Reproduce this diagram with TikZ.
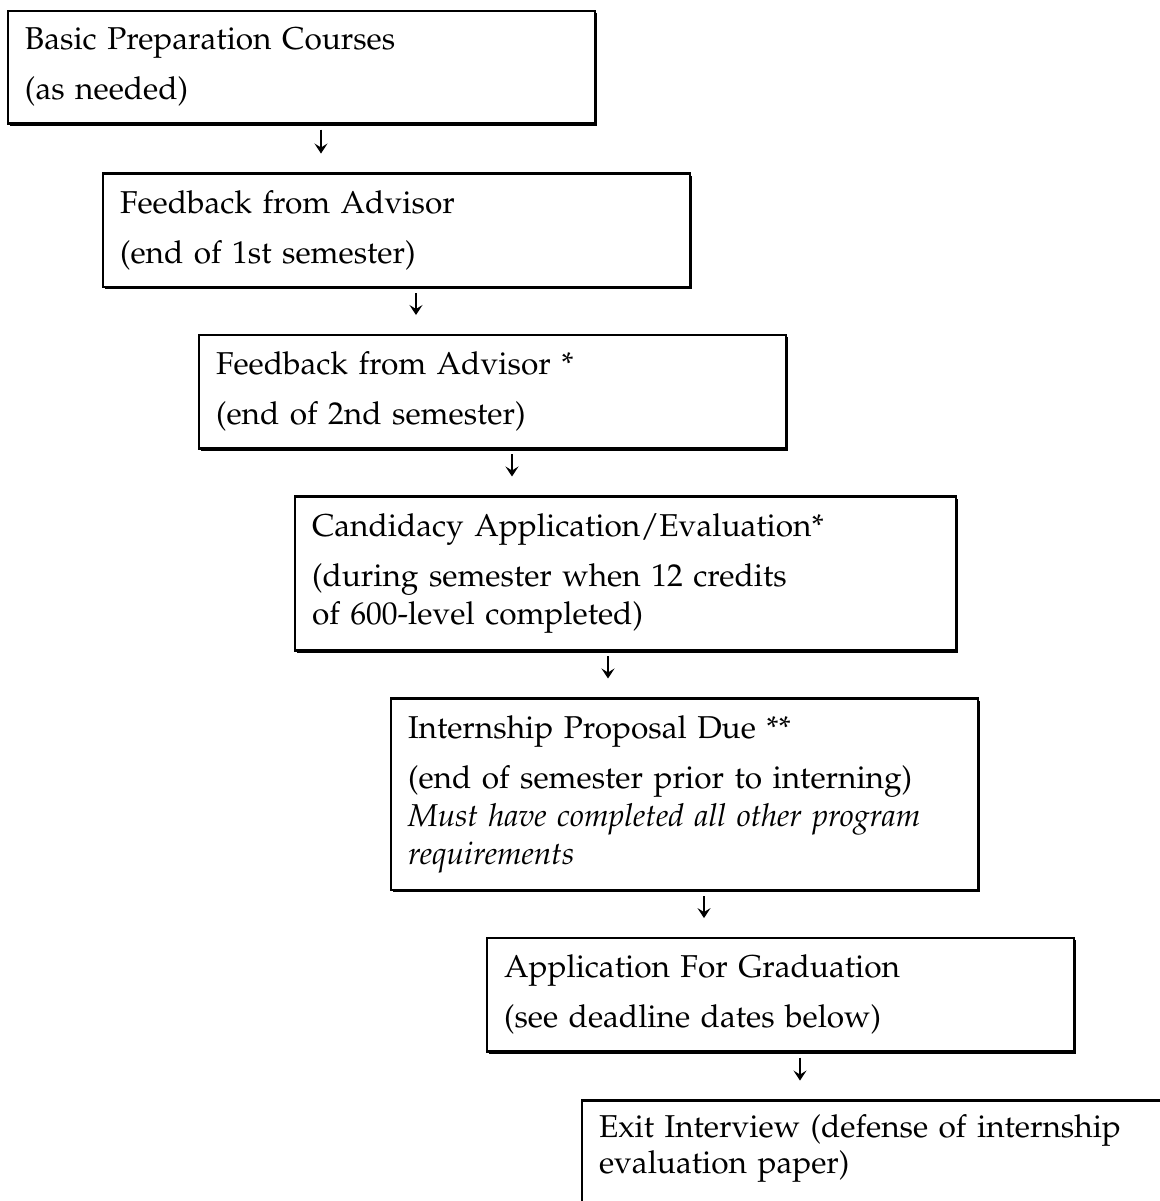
\documentclass[tikz,border=0pt]{standalone}
\usepackage[T1]{fontenc}
\usepackage{mathpazo}
\usepackage{tikz}
\usetikzlibrary{positioning, arrows.meta, shadows}

\tikzset{
    stage/.style={draw, line width=1.1pt, fill=white, anchor=north west, align=left, outer sep=0pt,
        text width=276.5pt, inner xsep=8.5pt, inner ysep=8.5pt, minimum height=56.5pt,
        font=\fontsize{15.8pt}{19pt}\selectfont,
        drop shadow={shadow xshift=1.2pt, shadow yshift=-1.2pt, fill=black, opacity=1}},
    flow/.style={-{Stealth[length=5pt, width=6.5pt, inset=2pt]}, line width=0.6pt, shorten <=3pt, shorten >=10pt}
}

\begin{document}
\begin{tikzpicture}
    \useasboundingbox (0,0) rectangle (580pt,-600.5pt);
    \clip (0,0) rectangle (580pt,-600.5pt);
    \node (Prep) [stage, minimum height=56pt] at (4pt,-5.5pt) {Basic Preparation Courses\\[6pt](as needed)};
    \node (Adv1) [stage, below right=25pt and 47.5pt of Prep.south west] {Feedback from Advisor\\[6pt](end of 1st semester)};
    \node (Adv2) [stage, below right=24pt and 48pt of Adv1.south west] {Feedback from Advisor *\\[6pt](end of 2nd semester)};
    \node (Cand) [stage, text width=313.5pt, minimum height=77pt, below right=24pt and 48pt of Adv2.south west] {Candidacy Application/Evaluation*\\[6pt](during semester when 12 credits\\of 600-level completed)};
    \node (Prop) [stage, minimum height=95.5pt, below right=24pt and 48pt of Cand.south west] {Internship Proposal Due **\\[6pt](end of semester prior to interning)\\\textit{Must have completed all other program}\\\textit{requirements}};
    \node (Grad) [stage, below right=24pt and 48pt of Prop.south west] {Application For Graduation\\[6pt](see deadline dates below)};
    \node (Exit) [stage, inner ysep=7pt, text depth=45pt, below right=24.5pt and 47.5pt of Grad.south west] {Exit Interview (defense of internship\\[-1pt]evaluation paper)};
    \coordinate (d1) at ([xshift=156.5pt]Prep.south west);
    \coordinate (d2) at ([xshift=156.5pt]Adv1.south west);
    \coordinate (d3) at ([xshift=156.5pt]Adv2.south west);
    \coordinate (d4) at ([xshift=156.5pt]Cand.south west);
    \coordinate (d5) at ([xshift=156.5pt]Prop.south west);
    \coordinate (d6) at ([xshift=156.5pt]Grad.south west);
    \draw [flow] (d1) -- (d1 |- Adv1.north);
    \draw [flow] (d2) -- (d2 |- Adv2.north);
    \draw [flow] (d3) -- (d3 |- Cand.north);
    \draw [flow] (d4) -- (d4 |- Prop.north);
    \draw [flow] (d5) -- (d5 |- Grad.north);
    \draw [flow] (d6) -- (d6 |- Exit.north);
\end{tikzpicture}
\end{document}
